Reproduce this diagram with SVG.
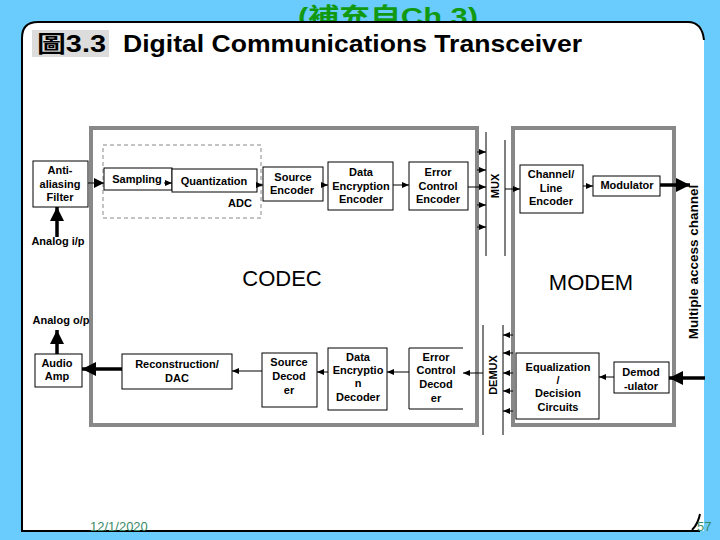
<svg xmlns="http://www.w3.org/2000/svg" width="720" height="540" viewBox="0 0 720 540">
<defs>
<style>
.box{fill:#fff;stroke:#000;stroke-width:1}
.t{font-family:"Liberation Sans",Arial,sans-serif;font-weight:bold;font-size:11px;fill:#000;text-anchor:middle}
.big{font-family:"Liberation Sans",Arial,sans-serif;font-size:22px;fill:#000;text-anchor:middle}
.c{stroke:#000;stroke-width:1;fill:none}
.ct{stroke:#000;stroke-width:3.5;fill:none}
.frame{fill:none;stroke:#888;stroke-width:4}
</style>
<marker id="a" markerUnits="userSpaceOnUse" markerWidth="7" markerHeight="7" refX="7" refY="3.5" orient="auto"><path d="M0,0.5 L7,3.5 L0,6.5 z" fill="#000"/></marker>
<marker id="am" markerUnits="userSpaceOnUse" markerWidth="10" markerHeight="10" refX="10" refY="5" orient="auto"><path d="M0,0 L10,5 L0,10 z" fill="#000"/></marker>
<marker id="ab" markerUnits="userSpaceOnUse" markerWidth="14" markerHeight="14" refX="14" refY="7" orient="auto"><path d="M0,0 L14,7 L0,14 z" fill="#000"/></marker>
</defs>
<rect x="0" y="0" width="720" height="540" fill="#6ACCFC"/>
<text x="298" y="25" font-family="'Liberation Sans','Noto Sans CJK TC',sans-serif" font-weight="bold" font-size="24" fill="#119A11" textLength="180" lengthAdjust="spacingAndGlyphs">(補充自Ch.3)</text>
<path d="M22,531 L22,38 Q22,22 38,22 L688,22 Q704,22 704,38 L704,531 Z" fill="#fff"/>
<path d="M700,531 L22,531 L22,38 Q22,22 38,22 L688,22 Q702,22 704,40" fill="none" stroke="#000" stroke-width="2"/>
<path d="M692,530 Q698,524 700,514" fill="none" stroke="#000" stroke-width="2"/>
<g id="title">
<rect x="32" y="30" width="77" height="27" fill="#DCDCDC"/>
<text x="37" y="52" font-family="'Liberation Sans','Noto Sans CJK TC',sans-serif" font-weight="bold" font-size="23" fill="#000" textLength="69" lengthAdjust="spacingAndGlyphs">圖3.3</text>
<text x="123" y="52" font-family="'Liberation Sans',Arial,sans-serif" font-weight="bold" font-size="24" fill="#000" textLength="459" lengthAdjust="spacingAndGlyphs">Digital Communications Transceiver</text>
</g>
<g id="codec">
<rect class="frame" x="91" y="128" width="386" height="297"/>
<text class="big" x="282" y="286">CODEC</text>
</g>
<g id="modem">
<rect class="frame" x="513" y="128" width="161" height="297"/>
<text class="big" x="591" y="290">MODEM</text>
</g>
<g id="adc">
<rect x="103" y="145" width="158" height="73" fill="none" stroke="#888" stroke-width="1" stroke-dasharray="4,3"/>
<text class="t" x="240" y="207">ADC</text>
</g>
<g id="antialias">
<rect class="box" x="33" y="161" width="55" height="46"/>
<text class="t" x="60" y="174">Anti-</text>
<text class="t" x="60" y="188">aliasing</text>
<text class="t" x="60" y="201">Filter</text>
</g>
<g id="analog-ip"><text class="t" x="58" y="245">Analog i/p</text></g>
<g id="sampling">
<rect class="box" x="104" y="168" width="68" height="22"/>
<text class="t" x="137" y="183">Sampling</text>
</g>
<g id="quantization">
<rect class="box" x="172" y="169" width="85" height="23"/>
<text class="t" x="214" y="185">Quantization</text>
</g>
<g id="source-encoder">
<rect class="box" x="263" y="167" width="60" height="34"/>
<text class="t" x="293" y="181">Source</text>
<text class="t" x="292" y="194">Encoder</text>
</g>
<g id="data-enc">
<rect class="box" x="328" y="162" width="65" height="48"/>
<text class="t" x="361" y="176">Data</text>
<text class="t" x="361" y="190">Encryption</text>
<text class="t" x="361" y="203">Encoder</text>
</g>
<g id="error-enc">
<rect class="box" x="409" y="162" width="59" height="48"/>
<text class="t" x="438" y="176">Error</text>
<text class="t" x="438" y="190">Control</text>
<text class="t" x="438" y="203">Encoder</text>
</g>
<g id="mux">
<line class="c" x1="486" y1="132" x2="486" y2="256"/>
<line class="c" x1="505" y1="140" x2="505" y2="256"/>
<text class="t" x="0" y="0" transform="translate(499,186) rotate(-90)">MUX</text>
</g>
<g id="channel-enc">
<rect class="box" x="520" y="165" width="63" height="48"/>
<text class="t" x="551" y="178">Channel/</text>
<text class="t" x="551" y="192">Line</text>
<text class="t" x="551" y="205">Encoder</text>
</g>
<g id="modulator">
<rect class="box" x="593" y="176" width="67" height="20"/>
<text class="t" x="627" y="189">Modulator</text>
</g>
<g id="channel-label">
<text x="0" y="0" transform="translate(698,262) rotate(-90)" font-family="'Liberation Sans',Arial,sans-serif" font-weight="bold" font-size="13.5" text-anchor="middle" fill="#000">Multiple access channel</text>
</g>
<g id="analog-op"><text class="t" x="61" y="324">Analog o/p</text></g>
<g id="audio-amp">
<rect class="box" x="35" y="354" width="47" height="33"/>
<text class="t" x="57" y="367">Audio</text>
<text class="t" x="57" y="380">Amp</text>
</g>
<g id="reconstruction">
<rect class="box" x="122" y="354" width="110" height="35"/>
<text class="t" x="177" y="368">Reconstruction/</text>
<text class="t" x="177" y="382">DAC</text>
</g>
<g id="source-dec">
<rect class="box" x="262" y="353" width="55" height="54"/>
<text class="t" x="289" y="366">Source</text>
<text class="t" x="289" y="380">Decod</text>
<text class="t" x="289" y="394">er</text>
</g>
<g id="data-dec">
<rect class="box" x="328" y="348" width="59" height="62"/>
<text class="t" x="358" y="361">Data</text>
<text class="t" x="358" y="374">Encryptio</text>
<text class="t" x="358" y="387">n</text>
<text class="t" x="358" y="401">Decoder</text>
</g>
<g id="error-dec">
<path class="c" d="M463,348 L409,348 L409,409 L463,409"/>
<text class="t" x="436" y="361">Error</text>
<text class="t" x="436" y="374">Control</text>
<text class="t" x="436" y="388">Decod</text>
<text class="t" x="436" y="402">er</text>
</g>
<g id="demux">
<line class="c" x1="483" y1="325" x2="483" y2="435"/>
<line class="c" x1="503" y1="325" x2="503" y2="435"/>
<text class="t" x="0" y="0" transform="translate(497,375) rotate(-90)">DEMUX</text>
</g>
<g id="equalization">
<rect class="box" x="516" y="353" width="83" height="66"/>
<text class="t" x="558" y="371">Equalization</text>
<text class="t" x="558" y="384">/</text>
<text class="t" x="558" y="397">Decision</text>
<text class="t" x="558" y="411">Circuits</text>
</g>
<g id="demodulator">
<rect class="box" x="614" y="362" width="55" height="31"/>
<text class="t" x="641" y="376">Demod</text>
<text class="t" x="641" y="390">-ulator</text>
</g>
<g id="connectors">
<line class="c" x1="88" y1="183" x2="104" y2="183" marker-end="url(#am)"/>
<line class="c" x1="164" y1="183" x2="172" y2="183" marker-end="url(#a)"/>
<line class="c" x1="257" y1="185" x2="263" y2="185" marker-end="url(#a)"/>
<line class="c" x1="323" y1="185" x2="328" y2="185" marker-end="url(#a)"/>
<line class="c" x1="393" y1="185" x2="409" y2="185" marker-end="url(#a)"/>
<line class="c" x1="468" y1="187" x2="486" y2="187" marker-end="url(#a)"/>
<line class="c" x1="477" y1="152" x2="486" y2="152" marker-end="url(#a)"/>
<line class="c" x1="477" y1="170" x2="486" y2="170" marker-end="url(#a)"/>
<line class="c" x1="477" y1="205" x2="486" y2="205" marker-end="url(#a)"/>
<line class="c" x1="477" y1="227" x2="486" y2="227" marker-end="url(#a)"/>
<line class="c" x1="505" y1="189" x2="520" y2="189" marker-end="url(#a)"/>
<line class="c" x1="583" y1="186" x2="593" y2="186" marker-end="url(#a)"/>
<line class="ct" x1="660" y1="185" x2="690" y2="185" marker-end="url(#ab)"/>
<line class="ct" x1="57" y1="237" x2="57" y2="207" marker-end="url(#ab)"/>
<line class="ct" x1="57" y1="354" x2="57" y2="330" marker-end="url(#ab)"/>
<line class="ct" x1="122" y1="369" x2="82" y2="369" marker-end="url(#ab)"/>
<line class="c" x1="262" y1="371" x2="232" y2="371" marker-end="url(#a)"/>
<line class="c" x1="328" y1="372" x2="317" y2="372" marker-end="url(#a)"/>
<line class="c" x1="409" y1="372" x2="387" y2="372" marker-end="url(#a)"/>
<line class="c" x1="483" y1="373" x2="463" y2="373" marker-end="url(#a)"/>
<line class="c" x1="513" y1="335" x2="503" y2="335" marker-end="url(#a)"/>
<line class="c" x1="513" y1="353" x2="503" y2="353" marker-end="url(#a)"/>
<line class="c" x1="513" y1="373" x2="503" y2="373" marker-end="url(#a)"/>
<line class="c" x1="513" y1="391" x2="503" y2="391" marker-end="url(#a)"/>
<line class="c" x1="513" y1="411" x2="503" y2="411" marker-end="url(#a)"/>
<line class="c" x1="614" y1="377" x2="599" y2="377" marker-end="url(#a)"/>
<line class="ct" x1="705" y1="378" x2="669" y2="378" marker-end="url(#ab)"/>
</g>
<g id="footer">
<text x="90" y="531" font-family="'Liberation Sans',Arial,sans-serif" font-size="13" fill="#3A8A66">12/1/2020</text>
<text x="697" y="531" font-family="'Liberation Sans',Arial,sans-serif" font-size="13" fill="#3A8A66">57</text>
</g>
</svg>
